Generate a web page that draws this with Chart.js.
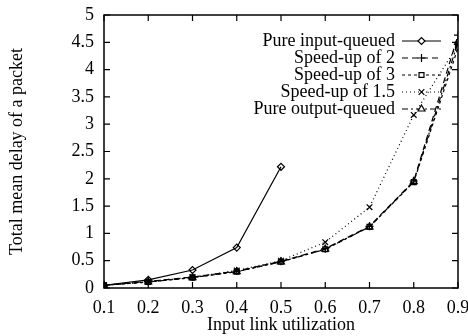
<!DOCTYPE html>
<html>
<head>
<meta charset="utf-8">
<script src="https://cdn.jsdelivr.net/npm/chart.js@4.4.1/dist/chart.umd.min.js"></script>
<style>
    html, body { margin: 0; padding: 0; background: #fff; }
    #wrap { width: 468px; height: 336px; }
</style>
</head>
<body>
<div id="wrap"><canvas id="delayChart" width="468" height="336"></canvas></div>
<script>
// utilization points
var utilization = [0.1, 0.2, 0.3, 0.4, 0.5, 0.6, 0.7, 0.8, 0.9];

// mean delay per series
var pureInputQueued = [0.05, 0.15, 0.33, 0.74, 2.22];
var speedUp2 = [0.05, 0.12, 0.2, 0.31, 0.49, 0.72, 1.13, 1.96, 4.63];
var speedUp3 = [0.05, 0.11, 0.19, 0.3, 0.48, 0.71, 1.12, 1.94, 4.4];
var speedUp15 = [0.05, 0.12, 0.2, 0.32, 0.5, 0.84, 1.48, 3.17, 4.45];
var pureOutputQueued = [0.05, 0.11, 0.19, 0.3, 0.48, 0.71, 1.12, 1.95, 4.5];

var seriesLabels = ['Pure input-queued', 'Speed-up of 2', 'Speed-up of 3', 'Speed-up of 1.5', 'Pure output-queued'];

var xTickLabels = ['0.1', '0.2', '0.3', '0.4', '0.5', '0.6', '0.7', '0.8', '0.9'];
var yTickLabels = ['0', '0.5', '1', '1.5', '2', '2.5', '3', '3.5', '4', '4.5', '5'];

var serif = '"Liberation Serif", "DejaVu Serif", serif';
var fontSize = 18;

function toPoints(values) {
    return values.map(function (v, i) {
        return { x: utilization[i], y: v };
    });
}

function makeSet(label, values, dash, style, radius) {
    return {
        label: label,
        data: toPoints(values),
        showLine: true,
        borderColor: '#000',
        backgroundColor: 'rgba(0,0,0,0)',
        borderWidth: 1.2,
        borderDash: dash,
        pointStyle: style,
        pointRadius: radius,
        pointBorderWidth: 1.2,
        pointBorderColor: '#000',
        pointBackgroundColor: 'rgba(0,0,0,0)',
        tension: 0
    };
}

// box + inward ticks on all four sides, gnuplot style
var frameTicks = {
    id: 'frameTicks',
    afterDraw: function (chart) {
        var c = chart.ctx;
        var a = chart.chartArea;
        var xs = chart.scales.x, ys = chart.scales.y;
        var len = 6;
        c.save();
        c.strokeStyle = '#000';
        c.lineWidth = 1.5;
        c.strokeRect(a.left, a.top, a.right - a.left, a.bottom - a.top);
        c.lineWidth = 1.2;
        c.beginPath();
        xs.ticks.forEach(function (t) {
            var px = xs.getPixelForValue(t.value);
            c.moveTo(px, a.bottom); c.lineTo(px, a.bottom - len);
            c.moveTo(px, a.top); c.lineTo(px, a.top + len);
        });
        ys.ticks.forEach(function (t) {
            var py = ys.getPixelForValue(t.value);
            c.moveTo(a.left, py); c.lineTo(a.left + len, py);
            c.moveTo(a.right, py); c.lineTo(a.right - len, py);
        });
        c.stroke();
        c.restore();
    }
};

// legend inside the plot: right-aligned text, sample line after it
var keyBox = {
    id: 'keyBox',
    afterDatasetsDraw: function (chart) {
        var c = chart.ctx;
        var textRight = 395, lineStart = 402, lineEnd = 441, rowTop = 41, rowStep = 17;
        c.save();
        c.font = fontSize + 'px ' + serif;
        c.textAlign = 'right';
        c.textBaseline = 'middle';
        chart.data.datasets.forEach(function (ds, i) {
            var y = rowTop + i * rowStep;
            c.fillStyle = '#000';
            c.fillText(ds.label, textRight, y);
            c.beginPath();
            c.setLineDash(ds.borderDash || []);
            c.lineWidth = ds.borderWidth;
            c.strokeStyle = '#000';
            c.moveTo(lineStart, y);
            c.lineTo(lineEnd, y);
            c.stroke();
            c.setLineDash([]);
            c.lineWidth = ds.pointBorderWidth;
            c.fillStyle = '#fff';
            Chart.helpers.drawPoint(c, {
                pointStyle: ds.pointStyle,
                radius: ds.pointRadius,
                rotation: 0,
                borderWidth: ds.pointBorderWidth
            }, (lineStart + lineEnd) / 2, y);
        });
        c.restore();
    }
};

var config = {
    type: 'scatter',
    data: {
        datasets: [
            makeSet(seriesLabels[0], pureInputQueued, [], 'rectRot', 3.5),
            makeSet(seriesLabels[1], speedUp2, [6, 4], 'cross', 4),
            makeSet(seriesLabels[2], speedUp3, [3, 3], 'rect', 3.5),
            makeSet(seriesLabels[3], speedUp15, [1, 3], 'crossRot', 4),
            makeSet(seriesLabels[4], pureOutputQueued, [6, 3, 2, 3], 'triangle', 4)
        ]
    },
    options: {
        responsive: false,
        devicePixelRatio: 1,
        animation: false,
        layout: { padding: { left: 0, right: 10, top: 15, bottom: 0 } },
        plugins: {
            legend: { display: false },
            tooltip: { enabled: false }
        },
        scales: {
            x: {
                type: 'linear',
                min: 0.1,
                max: 0.9,
                grid: { display: false, drawTicks: false },
                border: { display: false },
                ticks: {
                    stepSize: 0.1,
                    padding: 9,
                    color: '#000',
                    font: { family: serif, size: fontSize },
                    maxRotation: 0,
                    callback: function (v) {
                        var i = Math.round(v * 10) - 1;
                        return xTickLabels[i];
                    }
                },
                title: {
                    display: true,
                    text: 'Input link utilization',
                    color: '#000',
                    font: { family: serif, size: fontSize },
                    padding: { top: 0, bottom: 0 }
                },
                afterFit: function (scale) {
                    scale.height = 48;
                    scale.paddingLeft = 0;
                    scale.paddingRight = 0;
                }
            },
            y: {
                min: 0,
                max: 5,
                grid: { display: false, drawTicks: false },
                border: { display: false },
                ticks: {
                    stepSize: 0.5,
                    padding: 10,
                    color: '#000',
                    font: { family: serif, size: fontSize },
                    callback: function (v) {
                        return yTickLabels[Math.round(v * 2)];
                    }
                },
                title: {
                    display: true,
                    text: 'Total mean delay of a packet',
                    color: '#000',
                    font: { family: serif, size: fontSize },
                    padding: { top: 6, bottom: 0 }
                },
                afterFit: function (scale) {
                    scale.width = 104;
                    scale.paddingTop = 0;
                    scale.paddingBottom = 0;
                }
            }
        }
    },
    plugins: [frameTicks, keyBox]
};

var myChart = new Chart(document.getElementById('delayChart'), config);
</script>
</body>
</html>
